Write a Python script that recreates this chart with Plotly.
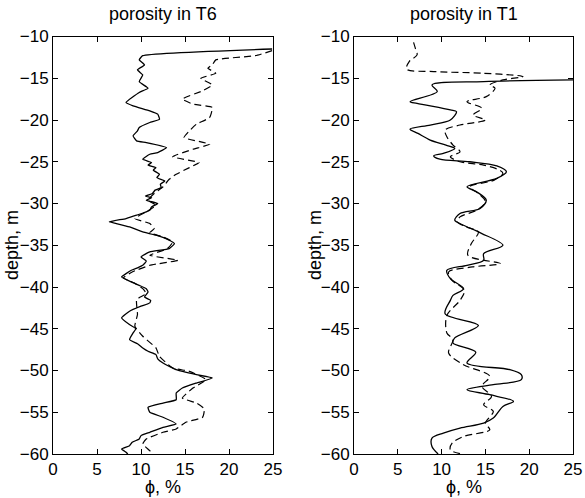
import plotly.graph_objects as go

# ---- data: porosity (%) vs depth (m) ----
t6_solid_phi = [24.9, 10.2, 9.8, 10.4, 9.6, 10.2, 9.8, 10.8, 9.8, 8.3, 9.1, 11.0, 11.9, 12.1, 11.0, 9.8, 9.6, 9.1, 9.5, 10.6,
                12.9, 11.9, 11.0, 10.2, 11.2, 10.8, 11.7, 11.4, 12.1, 11.8, 12.7, 12.2, 12.3, 11.6, 11.3, 10.5, 11.2, 10.6, 11.9, 11.2,
                11.0, 9.5, 8.3, 6.4, 7.2, 8.7, 10.2, 11.7, 13.2, 13.8, 13.2, 11.0, 10.0, 10.6, 10.2, 9.6, 8.9, 7.8, 8.5, 9.8,
                10.6, 10.8, 10.4, 11.1, 11.0, 10.0, 8.7, 7.8, 8.7, 9.4, 9.1, 8.7, 9.6, 10.2, 10.8, 11.7, 11.9, 12.5, 14.0, 16.3,
                18.1, 16.3, 14.7, 14.0, 14.0, 12.5, 10.8, 11.0, 12.5, 14.0, 12.5, 11.0, 10.0, 9.8, 9.0, 8.7, 7.8, 8.3, 8.5]
t6_solid_depth = [-11.5, -12.3, -12.8, -13.4, -14.0, -14.6, -15.4, -16.2, -16.7, -17.9, -18.3, -18.9, -19.3, -19.9, -20.3, -20.9, -21.3, -21.9, -22.5, -22.7,
                  -23.3, -23.9, -24.1, -24.7, -25.1, -25.4, -25.7, -26.0, -26.5, -26.9, -27.3, -27.7, -28.1, -28.4, -28.8, -29.1, -29.3, -29.6, -30.0, -30.4,
                  -30.8, -31.4, -31.8, -32.2, -32.4, -32.8, -33.4, -33.8, -34.4, -34.8, -35.4, -35.8, -36.4, -36.9, -37.4, -37.7, -38.0, -38.8, -39.2, -39.8,
                  -40.2, -40.6, -41.2, -41.6, -41.9, -42.3, -42.9, -43.7, -44.5, -45.0, -45.5, -46.3, -46.8, -47.3, -47.7, -48.1, -48.6, -49.1, -49.9, -50.5,
                  -50.9, -51.5, -52.1, -52.7, -53.5, -53.9, -54.4, -55.0, -55.6, -56.4, -56.8, -57.4, -57.8, -58.2, -58.6, -59.0, -59.4, -59.8, -60.0]

t6_dash_phi = [24.9, 23.0, 18.5, 18.1, 17.6, 18.5, 16.8, 18.1, 17.0, 14.7, 15.9, 18.1, 17.8, 16.3, 15.5, 14.9, 17.8, 15.9, 13.6, 16.6,
               15.5, 14.0, 13.2, 12.5, 11.5, 10.8, 11.7, 10.6, 9.3, 11.0, 11.5, 11.0, 12.5, 13.6, 13.0, 11.0, 14.2, 11.0, 9.0, 8.0,
               9.2, 10.2, 10.6, 9.5, 9.6, 9.3, 10.2, 11.7, 12.1, 13.6, 15.5, 17.4, 15.9, 14.7, 16.3, 17.2, 17.0, 15.1, 14.0, 12.5,
               10.6, 10.2, 11.0, 11.3]
t6_dash_depth = [-11.7, -12.3, -12.8, -13.4, -13.8, -14.4, -15.0, -15.8, -16.5, -17.5, -18.1, -18.5, -19.7, -20.5, -21.3, -22.1, -22.9, -23.5, -24.4, -25.1,
                 -25.7, -26.5, -27.1, -28.0, -28.8, -29.6, -30.2, -31.0, -31.8, -32.4, -33.0, -33.5, -34.0, -34.6, -35.4, -36.2, -36.8, -37.4, -38.2, -38.9,
                 -39.5, -40.2, -40.8, -41.5, -43.3, -44.7, -45.9, -47.3, -48.3, -49.7, -50.1, -51.1, -52.1, -53.3, -53.9, -54.6, -55.6, -56.2, -57.0, -57.4,
                 -58.2, -58.8, -59.6, -60.0]

t1_solid_phi = [25.0, 14.8, 8.9, 9.5, 6.4, 7.2, 11.0, 11.7, 11.0, 8.7, 6.4, 7.3, 8.7, 10.5, 11.5, 10.2, 9.1, 9.8, 13.2, 16.3,
                17.4, 16.3, 12.9, 14.0, 15.1, 14.4, 12.1, 11.5, 12.5, 13.8, 14.6, 17.0, 14.8, 14.8, 12.9, 10.6, 11.0, 12.5, 11.3, 11.0,
                10.4, 14.2, 11.5, 11.3, 13.9, 12.9, 17.8, 19.1, 19.1, 15.9, 12.9, 15.5, 18.2, 17.0, 15.9, 14.8, 12.1, 10.2, 8.9, 8.9, 9.6]
t1_solid_depth = [-15.2, -15.4, -15.8, -16.6, -17.8, -18.0, -18.8, -19.0, -20.0, -20.6, -21.1, -21.6, -22.4, -23.0, -23.4, -24.0, -24.3, -24.7, -25.0, -25.5,
                  -26.2, -27.0, -28.0, -28.6, -29.6, -30.6, -31.2, -32.0, -32.6, -33.2, -33.6, -35.0, -36.0, -36.8, -37.4, -38.0, -39.0, -40.2, -41.0, -41.6,
                  -43.2, -44.6, -46.1, -46.7, -47.8, -49.1, -49.9, -50.5, -51.1, -51.7, -52.3, -52.9, -53.7, -54.3, -55.7, -56.3, -56.9, -57.5, -58.1, -59.1, -60.0]

t1_dash_phi = [6.8, 7.0, 7.2, 6.3, 6.0, 9.1, 14.8, 19.3, 17.0, 15.5, 16.1, 15.1, 12.9, 14.6, 13.6, 15.0, 12.1, 10.4, 10.6, 11.3,
               12.1, 11.0, 12.1, 14.8, 16.6, 17.0, 16.0, 13.2, 14.2, 15.0, 14.0, 12.1, 11.8, 12.8, 14.2, 13.4, 13.0, 16.7, 13.5, 10.8,
               11.2, 12.6, 12.1, 10.6, 10.6, 11.3, 10.8, 12.5, 15.5, 14.6, 15.7, 14.8, 15.9, 15.0, 15.5, 12.5, 11.2, 11.0, 12.3]
t1_dash_depth = [-10.7, -11.4, -12.2, -13.0, -13.9, -14.2, -14.4, -14.8, -15.2, -15.8, -16.2, -17.2, -17.8, -18.6, -19.4, -20.0, -20.6, -21.2, -22.0, -23.0,
                 -23.8, -24.4, -25.0, -25.4, -26.0, -26.4, -27.2, -28.0, -28.8, -29.8, -30.8, -31.6, -32.2, -32.8, -33.4, -34.8, -36.2, -37.2, -37.6, -38.2,
                 -39.2, -40.4, -41.6, -43.4, -45.5, -46.3, -47.9, -49.3, -50.7, -51.9, -53.1, -54.1, -54.9, -56.3, -57.1, -57.9, -58.7, -59.5, -60.0]

titles = ["porosity in T6", "porosity in T1"]
x_title = "ϕ, %"
y_title = "depth, m"
x_ticks = [0, 5, 10, 15, 20, 25]
y_ticks = [-10, -15, -20, -25, -30, -35, -40, -45, -50, -55, -60]

W, H = 585, 498
FONT = "Liberation Sans, Arial, Helvetica, sans-serif"

fig = go.Figure()
solid_l = dict(color="black", width=1.3, shape="spline", smoothing=0.4)
dash_l = dict(color="black", width=1.2, dash="7px,4px", shape="spline", smoothing=0.4)
solid_r = dict(color="black", width=1.3, shape="spline", smoothing=0.9)
dash_r = dict(color="black", width=1.2, dash="7px,4px", shape="spline", smoothing=0.9)

fig.add_trace(go.Scatter(x=t6_solid_phi, y=t6_solid_depth, mode="lines", line=solid_l, xaxis="x", yaxis="y"))
fig.add_trace(go.Scatter(x=t6_dash_phi, y=t6_dash_depth, mode="lines", line=dash_l, xaxis="x", yaxis="y"))
fig.add_trace(go.Scatter(x=t1_solid_phi, y=t1_solid_depth, mode="lines", line=solid_r, xaxis="x2", yaxis="y2"))
fig.add_trace(go.Scatter(x=t1_dash_phi, y=t1_dash_depth, mode="lines", line=dash_r, xaxis="x2", yaxis="y2"))

left_px = (53, 273)
right_px = (354, 573)
top_px, bot_px = 36.5, 454

def xd(p):
    return [p[0] / W, p[1] / W]

ydom = [1 - bot_px / H, 1 - top_px / H]

axis_common = dict(showline=True, linecolor="black", linewidth=1, mirror="allticks",
                   ticks="inside", ticklen=5, tickcolor="black", tickwidth=1,
                   showgrid=False, zeroline=False, automargin=False,
                   tickfont=dict(family=FONT, size=17, color="black"))

fig.update_layout(
    width=W, height=H,
    margin=dict(l=0, r=0, t=0, b=0),
    paper_bgcolor="white", plot_bgcolor="white",
    showlegend=False,
    xaxis=dict(domain=xd(left_px), range=[0, 25], tickvals=x_ticks, anchor="y", **axis_common),
    yaxis=dict(domain=ydom, range=[-60, -10], tickvals=y_ticks, anchor="x", **axis_common),
    xaxis2=dict(domain=xd(right_px), range=[0, 25], tickvals=x_ticks, anchor="y2", **axis_common),
    yaxis2=dict(domain=ydom, range=[-60, -10], tickvals=y_ticks, anchor="x2", **axis_common),
)

ann_font = dict(family=FONT, size=18, color="black")
for i, (p, t) in enumerate(zip([left_px, right_px], titles)):
    cx = (p[0] + p[1]) / 2 / W
    fig.add_annotation(text=t, x=cx, y=1 - 14 / H, xref="paper", yref="paper",
                       showarrow=False, xanchor="center", yanchor="middle", font=ann_font)
    fig.add_annotation(text=x_title, x=cx, y=1 - 487 / H, xref="paper", yref="paper",
                       showarrow=False, xanchor="center", yanchor="middle", font=ann_font)
    yx = (12 if i == 0 else 315) / W
    fig.add_annotation(text=y_title, x=yx, y=1 - 245 / H, xref="paper", yref="paper",
                       showarrow=False, xanchor="center", yanchor="middle", textangle=-90, font=ann_font)

fig.write_html("out.html")
